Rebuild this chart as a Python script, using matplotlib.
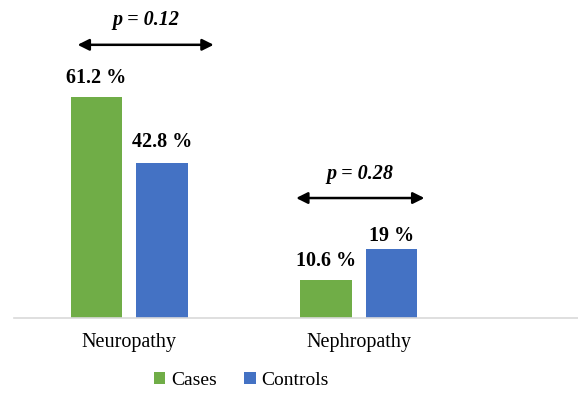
import numpy as np
import matplotlib.pyplot as plt

categories = ['Neuropathy', 'Nephropathy']
cases = [61.2, 10.6]
controls = [42.8, 19.0]
case_labels = ['61.2 %', '10.6 %']
control_labels = ['42.8 %', '19 %']
p_values = ['0.12', '0.28']

plt.rcParams['font.family'] = ['Liberation Serif', 'DejaVu Serif']

fig = plt.figure(figsize=(5.78, 4.05), dpi=100)
# axes from x=14px to right edge, baseline at y=318px
ax = fig.add_axes([14 / 578, (405 - 318) / 405, 1 - 14 / 578, 318 / 405])

x = np.arange(len(categories))
w = 0.225
off = 0.143
ax.bar(x - off, cases, w, color='#70AD47', label='Cases')
ax.bar(x + off, controls, w, color='#4472C4', label='Controls')

ax.set_xlim(-0.502, 1.955)
ax.set_ylim(0, 88)

for xi, v, t in zip(x - off, cases, case_labels):
    ax.text(xi, v + 2.5, t, ha='center', va='bottom', fontsize=14.5, fontweight='bold')
for xi, v, t, d in zip(x + off, controls, control_labels, [3.0, 0.8]):
    ax.text(xi, v + d, t, ha='center', va='bottom', fontsize=14.5, fontweight='bold')

# p-value arrows
arrow_y = [75.6, 33.2]
arrow_span = [(-0.225, 0.368), (0.727, 1.286)]
for (x0, x1), ay, p in zip(arrow_span, arrow_y, p_values):
    ax.annotate('', xy=(x1, ay), xytext=(x0, ay),
                arrowprops=dict(arrowstyle='<|-|>', color='black', lw=1.8,
                                mutation_scale=17, shrinkA=0, shrinkB=0),
                annotation_clip=False)
    ax.text((x0 + x1) / 2, ay + 4.0, f'p = {p}', ha='center', va='bottom',
            fontsize=14.5, fontweight='bold', fontstyle='italic')

for s in ['top', 'right', 'left']:
    ax.spines[s].set_visible(False)
ax.spines['bottom'].set_color('#d9d9d9')
ax.spines['bottom'].set_linewidth(1.2)
ax.set_yticks([])
ax.set_xticks(x)
ax.set_xticklabels(categories, fontsize=14.5)
ax.tick_params(axis='x', length=0, pad=11)

ax.legend(loc='upper center', bbox_to_anchor=(0.403, -0.115), ncol=2, frameon=False,
          prop={'family': 'Liberation Serif', 'size': 14}, handlelength=0.6,
          handleheight=0.6, handletextpad=0.3, columnspacing=1.4)

fig.savefig('out.png', dpi=100)
